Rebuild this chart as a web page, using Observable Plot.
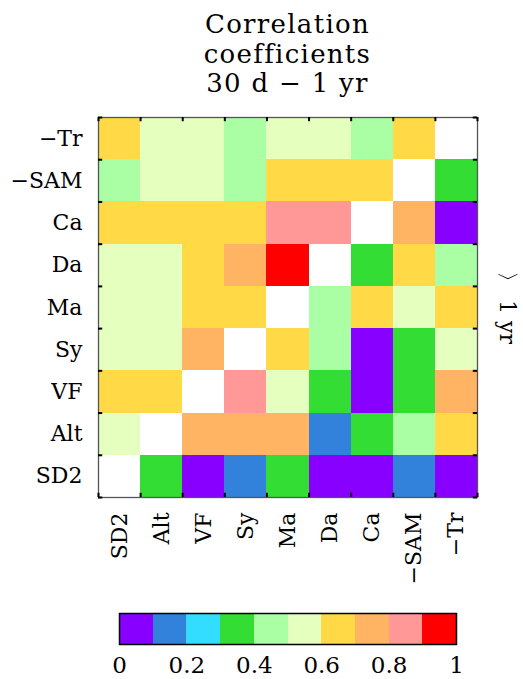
<!DOCTYPE html>
<html>
<head>
<meta charset="utf-8">
<script src="https://cdn.jsdelivr.net/npm/d3@7"></script>
<script src="https://cdn.jsdelivr.net/npm/@observablehq/plot@0.6"></script>
<style>
  html, body { margin: 0; padding: 0; background: white; }
  #wrap { position: relative; width: 523px; height: 679px; overflow: hidden; font-family: "DejaVu Serif", serif; }
  #title { position: absolute; left: 98px; top: 10px; width: 379px; text-align: center; font-size: 26px; line-height: 29.5px; letter-spacing: 1.3px; z-index: 2; color: #000; }
  #main { position: absolute; left: 0; top: 0; }
  #legend { position: absolute; left: 0; top: 600px; }
</style>
</head>
<body>
<div id="wrap">
  <div id="main"></div>
  <div id="title">Correlation<br>coefficients<br>30 d − 1 yr</div>
  <div id="legend"></div>
</div>
<script>
// Column labels (left to right) and row labels (top to bottom)
const cols = ["SD2", "Alt", "VF", "Sy", "Ma", "Da", "Ca", "−SAM", "−Tr"];
const rows = ["−Tr", "−SAM", "Ca", "Da", "Ma", "Sy", "VF", "Alt", "SD2"];

// Correlation coefficients per row (columns in order of `cols`); null = diagonal
const rowTr  = [0.65, 0.55, 0.55, 0.45, 0.55, 0.55, 0.45, 0.65, null];
const rowSAM = [0.45, 0.55, 0.55, 0.45, 0.65, 0.65, 0.65, null, 0.35];
const rowCa  = [0.65, 0.65, 0.65, 0.65, 0.85, 0.85, null, 0.75, 0.05];
const rowDa  = [0.55, 0.55, 0.65, 0.75, 0.95, null, 0.35, 0.65, 0.45];
const rowMa  = [0.55, 0.55, 0.65, 0.65, null, 0.45, 0.65, 0.55, 0.65];
const rowSy  = [0.55, 0.55, 0.75, null, 0.65, 0.45, 0.05, 0.35, 0.55];
const rowVF  = [0.65, 0.65, null, 0.85, 0.55, 0.35, 0.05, 0.35, 0.75];
const rowAlt = [0.55, null, 0.75, 0.75, 0.75, 0.15, 0.35, 0.45, 0.65];
const rowSD2 = [null, 0.35, 0.05, 0.15, 0.35, 0.05, 0.05, 0.15, 0.05];

// Color bins
const binEdges = [0.1, 0.2, 0.3, 0.4, 0.5, 0.6, 0.7, 0.8, 0.9];
const binColors = ["#8800ff", "#3282dc", "#33ddff", "#33dd33", "#aaffa5", "#e4ffbe", "#ffda46", "#ffb464", "#ff9896", "#ff0000"];
const legendTicks = [0, 0.2, 0.4, 0.6, 0.8, 1];
const sideLabel = "〉 1 yr";

const matrix = [rowTr, rowSAM, rowCa, rowDa, rowMa, rowSy, rowVF, rowAlt, rowSD2];
const cells = [];
matrix.forEach((vals, r) => vals.forEach((v, c) => {
  if (v != null) cells.push({col: c, row: rows.length - 1 - r, value: v});
}));

const color = {type: "threshold", domain: binEdges, range: binColors};
const font = "DejaVu Serif";
const n = cols.length;
const tl = 0.1; // boundary tick length in data units
const bounds = d3.range(0, n + 1);

const main = Plot.plot({
  width: 523, height: 600,
  marginTop: 117, marginBottom: 103, marginLeft: 98, marginRight: 46,
  style: {fontFamily: font, fontSize: "22px", background: "white", color: "black"},
  x: {domain: [0, n], axis: null},
  y: {domain: [0, n], axis: null},
  color,
  marks: [
    Plot.rect(cells, {x1: "col", x2: d => d.col + 1, y1: "row", y2: d => d.row + 1, fill: "value", shapeRendering: "crispEdges"}),
    Plot.frame({stroke: "#555", strokeWidth: 1.3}),
    Plot.ruleX(bounds, {x: d => d, y1: 0, y2: tl, stroke: "black", strokeWidth: 2}),
    Plot.ruleX(bounds, {x: d => d, y1: n - tl, y2: n, stroke: "black", strokeWidth: 2}),
    Plot.ruleY(bounds, {y: d => d, x1: 0, x2: tl, stroke: "black", strokeWidth: 2}),
    Plot.ruleY(bounds, {y: d => d, x1: n - tl, x2: n, stroke: "black", strokeWidth: 2}),
    Plot.axisX(d3.range(n).map(i => i + 0.5), {anchor: "bottom", tickSize: 0, tickPadding: 15, tickRotate: -90, tickFormat: d => cols[Math.floor(d)], fontSize: 22, label: null}),
    Plot.axisY(d3.range(n).map(i => i + 0.5), {anchor: "left", tickSize: 0, tickPadding: 16, tickFormat: d => rows[n - 1 - Math.floor(d)], fontSize: 22, label: null}),
    Plot.text([sideLabel], {frameAnchor: "right", dx: 30, rotate: 90, text: d => d, fontSize: 22, textAnchor: "middle", fill: "black", style: "letter-spacing: 1px"})
  ]
});
document.getElementById("main").appendChild(main);

const legendBins = binColors.map((c, i) => ({x1: i / 10, x2: (i + 1) / 10, v: i / 10 + 0.05}));
const legend = Plot.plot({
  width: 523, height: 79,
  marginTop: 13, marginBottom: 35, marginLeft: 119, marginRight: 67,
  style: {fontFamily: font, fontSize: "23px", background: "white", color: "black"},
  x: {domain: [0, 1], axis: null},
  color,
  marks: [
    Plot.rect(legendBins, {x1: "x1", x2: "x2", fill: "v", shapeRendering: "crispEdges"}),
    Plot.frame({stroke: "black", strokeWidth: 1.5}),
    Plot.axisX(legendTicks, {anchor: "bottom", tickSize: 0, tickPadding: 12, fontSize: 23, label: null, tickFormat: d => String(d)})
  ]
});
document.getElementById("legend").appendChild(legend);
</script>
</body>
</html>
